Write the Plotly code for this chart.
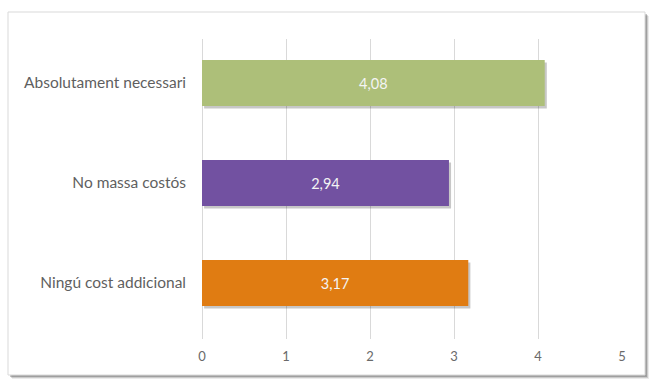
import plotly.graph_objects as go

categories = ["Absolutament necessari", "No massa costós", "Ningú cost addicional"]
values = [4.08, 2.94, 3.17]
labels = ["4,08", "2,94", "3,17"]
colors = ["#ADBF79", "#7251A1", "#E07C12"]
tick_vals = [0, 1, 2, 3, 4, 5]

W, H = 653, 383
L, R, T, B = 202, 31, 39, 44
pw, ph = W - L - R, H - T - B

def px_x(p):
    return (p - L) / pw

def px_y(p):
    return (H - B - p) / ph

BW = 0.46
fig = go.Figure()
# soft drop shadow of the bars
fig.add_trace(go.Bar(
    y=categories, x=values, orientation="h", base=0.025,
    width=BW, offset=-BW / 2 + 0.025,
    marker=dict(color="rgba(0,0,0,0.22)", line=dict(width=0)),
    hoverinfo="skip",
))
fig.add_trace(go.Bar(
    y=categories, x=values, orientation="h",
    width=BW, offset=-BW / 2,
    marker=dict(color=colors, line=dict(width=0)),
    text=labels, textposition="inside", insidetextanchor="middle",
    textfont=dict(color="#F4F4F4", size=14.5, family="Lato"),
    hoverinfo="skip",
))

shapes = []
# chart border shadow
for i, op in enumerate([0.10, 0.18, 0.30]):
    off = 4 - i
    shapes.append(dict(type="rect", xref="paper", yref="paper",
                       x0=px_x(8 + off), x1=px_x(645 + off), y0=px_y(375 + off), y1=px_y(12 + off),
                       line=dict(width=0), fillcolor=f"rgba(60,60,60,{op})", layer="below"))
shapes.append(dict(type="rect", xref="paper", yref="paper",
                   x0=px_x(8), x1=px_x(645), y0=px_y(375), y1=px_y(12),
                   line=dict(width=1, color="#D9D9D9"), fillcolor="white", layer="below"))

fig.update_layout(
    width=W, height=H,
    margin=dict(l=L, r=R, t=T, b=B),
    paper_bgcolor="white", plot_bgcolor="rgba(0,0,0,0)",
    showlegend=False, barmode="overlay",
    shapes=shapes,
    font=dict(family="Lato", color="#5F5F5F", size=12),
    xaxis=dict(range=[0, 5], tickvals=tick_vals, ticktext=[str(v) for v in tick_vals],
               showgrid=True, gridcolor="#D9D9D9", gridwidth=1,
               zeroline=True, zerolinecolor="#D9D9D9", zerolinewidth=1,
               showline=False, ticks="", tickfont=dict(size=13, color="#6A6A6A"),
               ticklabelstandoff=8, fixedrange=True),
    yaxis=dict(range=[2.56, -0.44], showgrid=False, zeroline=False, showline=False,
               ticks="", tickfont=dict(size=15.5, color="#5F5F5F"), ticklabelstandoff=15,
               fixedrange=True),
)

fig.write_html("out.html", config={"displayModeBar": False},
               post_script="document.body.style.margin='0';document.body.style.overflow='hidden';")
